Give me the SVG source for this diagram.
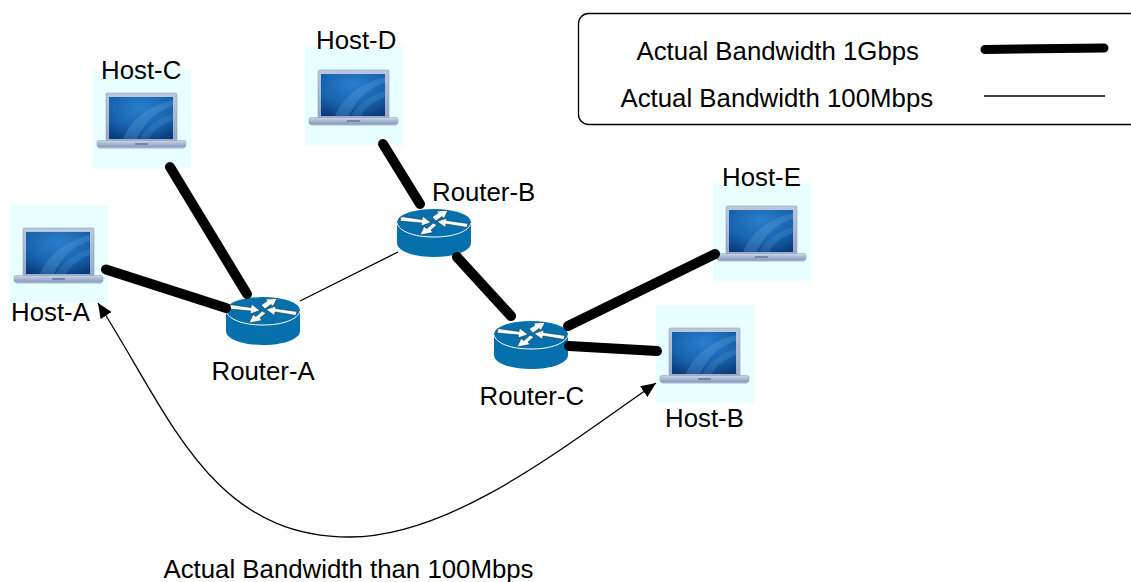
<svg xmlns="http://www.w3.org/2000/svg" width="1131" height="582" viewBox="0 0 1131 582">
<style>
text{font-family:"Liberation Sans",Arial,sans-serif;font-size:25.8px;fill:#000}
.thick{stroke:#000;stroke-width:10;stroke-linecap:round;fill:none}
.thin{stroke:#000;stroke-width:1.3;fill:none}
</style>
<defs>
<radialGradient id="scr" cx=".5" cy=".25" r=".85"><stop offset="0" stop-color="#2a7fcb"/><stop offset=".6" stop-color="#1762ad"/><stop offset="1" stop-color="#0a3a78"/></radialGradient>
<linearGradient id="bez" x1="0" y1="0" x2="0" y2="1"><stop offset="0" stop-color="#bcc8dc"/><stop offset="1" stop-color="#98a9c6"/></linearGradient>
<linearGradient id="base" x1="0" y1="0" x2="0" y2="1"><stop offset="0" stop-color="#ccd7e8"/><stop offset="1" stop-color="#8197ba"/></linearGradient>
<marker id="ah" markerUnits="userSpaceOnUse" markerWidth="16" markerHeight="14" refX="15" refY="6.5" orient="auto-start-reverse"><path d="M0 0L15 6.500L0 13Z" fill="#000"/></marker>
<symbol id="laptop" width="98" height="98" viewBox="0 0 98 98" overflow="visible">
<rect width="98" height="98" fill="#e8ffff"/>
<rect x="13" y="23" width="71" height="48" rx="1.500" fill="url(#bez)" stroke="#8d9dbb" stroke-width=".6"/>
<rect x="16" y="27" width="64" height="42" fill="url(#scr)"/>
<path d="M30 69C38 50 55 36 80 30V36C66 40 52 50 44 69Z" fill="#6aa8de" opacity=".28"/>
<path d="M46 69C52 58 66 48 80 44V50C70 54 60 60 56 69Z" fill="#6aa8de" opacity=".2"/>
<path d="M4 72Q4 70.500 6 70.500H91Q93 70.500 93 72V75.500Q93 77.500 90 77.500H7Q4 77.500 4 75.500Z" fill="url(#base)" stroke="#8d9dbb" stroke-width=".5"/>
<rect x="42" y="73" width="13" height="2" fill="#7586a3"/>
<path d="M6 78.500H91" stroke="#a5b2c8" stroke-width="1" opacity=".5"/>
</symbol>
<symbol id="router" width="74" height="48" viewBox="0 0 74 48" overflow="visible">
<path d="M0 13V34C0 42 16 48 37 48S74 42 74 34V13Z" fill="#0670ad"/>
<ellipse cx="37" cy="13" rx="37" ry="13" fill="#0670ad"/>
<path d="M0 14C2 22 16 28 37 28S72 22 74 14" fill="none" stroke="#fff" stroke-width="1"/>
<g fill="#f2fbf8" stroke="#10304a" stroke-width=".6">
<path d="M4 7.500L25 10.500L25.500 7L34 13.500L24 17L24.500 14L3 12Z"/>
<path d="M70 18.500L49 15L48.500 18.500L40 12.500L50 9L49.500 11.500L71 14.500Z"/>
<path d="M35 8L41 4L39.500 2L51 1.500L47 9.500L45 7.500L39 12Z"/>
<path d="M40 16L34 21L36 23.500L23 26L27 17.500L30 19.500L36 14Z"/>
</g>
</symbol>
</defs>
<g id="host-a"><use href="#laptop" x="10" y="205"/><text x="11" y="321">Host-A</text></g>
<g id="host-c"><use href="#laptop" x="93" y="70"/><text x="101" y="78.500">Host-C</text></g>
<g id="host-d"><use href="#laptop" x="305" y="47"/><text x="316" y="48.500">Host-D</text></g>
<g id="host-e"><use href="#laptop" x="713" y="183"/><text x="722" y="186">Host-E</text></g>
<g id="host-b"><use href="#laptop" x="656" y="305"/><text x="665" y="427">Host-B</text></g>
<g id="router-a"><use href="#router" x="226" y="297"/><text x="211.500" y="380">Router-A</text></g>
<g id="router-b"><use href="#router" x="397" y="209"/><text x="432" y="201">Router-B</text></g>
<g id="router-c"><use href="#router" x="494" y="321"/><text x="479.500" y="405">Router-C</text></g>
<g id="connectors">
<path class="thick" d="M106 269.500L226 308"/>
<path class="thick" d="M170 167L247 294"/>
<path class="thick" d="M383 144L420 204"/>
<path class="thick" d="M457 257L511 316"/>
<path class="thick" d="M568 326L715 254"/>
<path class="thick" d="M569 346L657 351"/>
<path class="thin" d="M300 301L398 252"/>
<path class="thin" marker-start="url(#ah)" marker-end="url(#ah)" d="M98 303C170 415 210 537 350 537C450 537 560 450 656 383"/>
</g>
<g id="legend">
<rect x="578.500" y="13.500" width="570" height="111" rx="10" fill="none" stroke="#000" stroke-width="1.300"/>
<text x="636.500" y="60">Actual Bandwidth 1Gbps</text>
<text x="620.500" y="106.500">Actual Bandwidth 100Mbps</text>
<path d="M985 49.500L1104 48" stroke="#000" stroke-width="9" stroke-linecap="round"/>
<path d="M984 96H1105" stroke="#000" stroke-width="1.300"/>
</g>
<text id="note" x="163.500" y="578">Actual Bandwidth than 100Mbps</text>
</svg>
